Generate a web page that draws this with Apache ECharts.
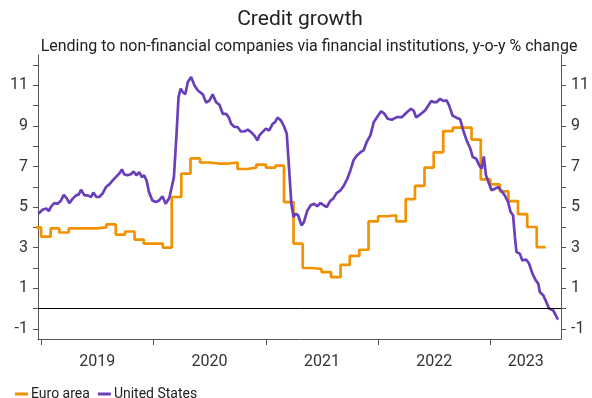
<!DOCTYPE html>
<html>
<head>
<meta charset="utf-8">
<script src="https://cdn.jsdelivr.net/npm/echarts@6/dist/echarts.min.js"></script>
<style>html,body{margin:0;padding:0;background:#fff;}#c{width:592px;height:398px;}</style>
</head>
<body>
<div id="c"></div>
<script>
const titleText = 'Credit growth';
const subtitleText = 'Lending to non-financial companies via financial institutions, y-o-y % change';
const seriesNames = ['Euro area', 'United States'];
const yearLabels = ['2019', '2020', '2021', '2022', '2023'];
const yTickValues = [-1, 0, 1, 2, 3, 4, 5, 6, 7, 8, 9, 10, 11, 12];
const yLabelValues = [-1, 1, 3, 5, 7, 9, 11];
const xStart = '2018-12-22';
const xEnd = '2023-08-19';

const euroMonths = ['2018-12',
 '2019-01','2019-02','2019-03','2019-04','2019-05','2019-06','2019-07','2019-08','2019-09','2019-10','2019-11','2019-12',
 '2020-01','2020-02','2020-03','2020-04','2020-05','2020-06','2020-07','2020-08','2020-09','2020-10','2020-11','2020-12',
 '2021-01','2021-02','2021-03','2021-04','2021-05','2021-06','2021-07','2021-08','2021-09','2021-10','2021-11','2021-12',
 '2022-01','2022-02','2022-03','2022-04','2022-05','2022-06','2022-07','2022-08','2022-09','2022-10','2022-11','2022-12',
 '2023-01','2023-02','2023-03','2023-04','2023-05','2023-06'];
const euroValues = [4.0,
 3.55,3.95,3.75,3.95,3.95,3.95,4.0,4.15,3.65,3.8,3.4,3.2,
 3.2,3.0,5.5,6.65,7.4,7.2,7.15,7.15,7.2,6.88,6.95,7.1,
 6.95,7.05,5.25,3.2,2.0,1.95,1.8,1.55,2.15,2.6,2.9,4.3,
 4.55,4.6,4.3,5.4,6.05,6.95,7.7,8.75,8.92,8.92,8.33,6.37,
 6.12,5.78,5.3,4.66,4.02,3.03];

const usDates = ['2018-12-23','2019-01-07','2019-01-18','2019-01-26','2019-02-03','2019-02-13','2019-02-24','2019-03-07','2019-03-16','2019-03-26',
 '2019-04-03','2019-04-14','2019-04-25','2019-05-04','2019-05-11','2019-05-22','2019-06-02','2019-06-13','2019-06-20','2019-06-30',
 '2019-07-09','2019-07-20','2019-07-31','2019-08-11','2019-08-22','2019-09-01','2019-09-12','2019-09-21','2019-09-28','2019-10-09',
 '2019-10-20','2019-10-29','2019-11-07','2019-11-16','2019-11-25','2019-12-02','2019-12-10','2019-12-18','2019-12-29','2020-01-09',
 '2020-01-20','2020-01-31','2020-02-10','2020-02-22','2020-03-02','2020-03-08','2020-03-16','2020-03-23','2020-03-30','2020-04-06',
 '2020-04-14','2020-04-22','2020-05-03','2020-05-14','2020-05-25','2020-06-10','2020-06-21','2020-07-02','2020-07-12','2020-07-23',
 '2020-08-03','2020-08-14','2020-08-25','2020-09-02','2020-09-10','2020-09-21','2020-10-01','2020-10-12','2020-10-23','2020-11-03',
 '2020-11-14','2020-11-24','2020-12-05','2020-12-11','2020-12-21','2021-01-01','2021-01-12','2021-01-23','2021-01-31','2021-02-08',
 '2021-02-19','2021-03-02','2021-03-10','2021-03-18','2021-03-25','2021-04-01','2021-04-08','2021-04-16','2021-04-27','2021-05-05',
 '2021-05-16','2021-05-27','2021-06-07','2021-06-17','2021-06-28','2021-07-09','2021-07-18','2021-07-29','2021-08-08','2021-08-19',
 '2021-09-01','2021-09-12','2021-09-23','2021-10-03','2021-10-13','2021-10-24','2021-11-05','2021-11-15','2021-11-25','2021-12-07',
 '2021-12-18','2021-12-29','2022-01-11','2022-01-22','2022-02-01','2022-02-15','2022-03-03','2022-03-20','2022-04-05','2022-04-18',
 '2022-04-27','2022-05-05','2022-05-18','2022-06-03','2022-06-14','2022-06-23','2022-06-30','2022-07-11','2022-07-22','2022-08-02',
 '2022-08-12','2022-08-20','2022-08-31','2022-09-13','2022-09-25','2022-10-05','2022-10-16','2022-10-27','2022-11-05','2022-11-16',
 '2022-11-26','2022-12-04','2022-12-11','2022-12-18','2022-12-26','2023-01-05','2023-01-16','2023-01-27','2023-02-03','2023-02-17',
 '2023-02-28','2023-03-08','2023-03-16','2023-03-22','2023-03-27','2023-04-07','2023-04-15','2023-04-28','2023-05-07','2023-05-18',
 '2023-05-29','2023-06-06','2023-06-11','2023-06-22','2023-07-02','2023-07-11','2023-07-24','2023-08-02','2023-08-09'];
const usValues = [4.68,4.88,4.93,4.81,5.04,5.2,5.17,5.33,5.61,5.42,
 5.2,5.42,5.58,5.63,5.86,5.58,5.58,5.5,5.72,5.5,
 5.5,5.67,5.99,6.12,6.32,6.48,6.65,6.86,6.62,6.57,
 6.62,6.76,6.57,6.73,6.48,6.57,6.32,5.74,5.33,5.25,
 5.33,5.53,5.17,5.45,6.07,6.48,8.45,10.42,10.84,10.67,
 10.56,11.16,11.41,11.0,10.75,10.56,10.15,10.26,10.56,10.18,
 10.05,9.6,9.6,9.44,9.11,8.95,8.95,8.73,8.73,8.82,
 8.7,8.54,8.29,8.54,8.7,8.87,8.78,9.11,9.19,9.41,
 9.28,8.95,8.62,6.81,5.17,4.51,4.68,4.6,4.1,4.27,
 4.84,5.09,5.17,5.04,5.2,5.09,5.0,5.3,5.42,5.69,
 5.83,6.07,6.4,6.81,7.31,7.55,7.71,7.8,8.21,8.54,
 9.19,9.44,9.73,9.6,9.36,9.31,9.44,9.44,9.68,9.85,
 9.75,9.42,9.57,9.77,10.02,10.23,10.18,10.18,10.34,10.23,
 10.26,10.02,9.52,9.41,9.33,8.78,8.29,7.93,7.47,7.39,
 7.06,6.9,7.5,6.57,6.24,5.83,5.91,5.99,5.86,5.58,
 5.25,4.76,4.6,3.53,2.79,2.71,2.38,2.41,2.22,1.72,
 1.39,1.23,0.82,0.66,0.33,0.0,-0.08,-0.33,-0.54];

// ---- build data ----
const ts = s => Date.parse(s);
const xMin = ts(xStart), xMax = ts(xEnd);
const euroData = euroMonths.map((m, i) => [ts(m + '-01'), euroValues[i]]);
(function () {
  const last = euroMonths[euroMonths.length - 1].split('-').map(Number);
  const monthEnd = Date.UTC(last[0], last[1], 0);
  euroData.push([monthEnd, euroValues[euroValues.length - 1]]);
})();
const usData = usDates.map((d, i) => [ts(d), usValues[i]]);
const yearStarts = yearLabels.map(y => ts(y + '-01-01'));
const yearMids = yearStarts.map((s, i) => (s + (i + 1 < yearStarts.length ? yearStarts[i + 1] : xMax)) / 2);

const FONT = 'Roboto';
const AX = '#555';
const TXT = '#333';
const orange = '#F39200';
const purple = '#6A3FBA';

function yAx(pos) {
  return {
    type: 'value', min: -1.5, max: 12.5, position: pos,
    axisLine: { show: true, lineStyle: { color: AX, width: 1 } },
    axisTick: { show: true, customValues: yTickValues, length: 5, lineStyle: { color: AX } },
    axisLabel: { customValues: yLabelValues, margin: 10, fontSize: 16, color: TXT, fontFamily: FONT },
    splitLine: { show: false }
  };
}

const chart = echarts.init(document.getElementById('c'), null, { renderer: 'canvas' });
chart.setOption({
  animation: false,
  backgroundColor: '#fff',
  graphic: [
    { type: 'text', x: 300, y: 20, style: { text: titleText, fontSize: 21, fontFamily: FONT, fill: '#222', textAlign: 'center', textVerticalAlign: 'middle' } },
    { type: 'text', x: 309, y: 47, style: { text: subtitleText, fontSize: 16, fontFamily: FONT, fill: '#222', textAlign: 'center', textVerticalAlign: 'middle' } }
  ],
  grid: { left: 38, right: 29, top: 55, bottom: 59, containLabel: false },
  legend: {
    left: 10, top: 382, icon: 'rect', itemWidth: 13, itemHeight: 3, itemGap: 8,
    textStyle: { fontSize: 14, fontFamily: FONT, color: '#222', padding: [0, 0, 0, -2] },
    data: seriesNames
  },
  xAxis: {
    type: 'value', min: xMin, max: xMax,
    axisLine: { show: true, onZero: false, lineStyle: { color: AX, width: 1 } },
    axisTick: { show: true, customValues: yearStarts, length: 6, lineStyle: { color: AX } },
    axisLabel: { customValues: yearMids, margin: 15, fontSize: 16, color: TXT, fontFamily: FONT,
      formatter: v => String(new Date(v).getUTCFullYear()) },
    splitLine: { show: false }
  },
  yAxis: [yAx('left'), yAx('right')],
  series: [
    { name: seriesNames[0], type: 'line', data: euroData, step: 'end', showSymbol: false,
      lineStyle: { color: orange, width: 2.7 }, itemStyle: { color: orange }, z: 3 },
    { name: seriesNames[1], type: 'line', data: usData, showSymbol: false,
      lineStyle: { color: purple, width: 2.7 }, itemStyle: { color: purple }, z: 4,
      markLine: { silent: true, symbol: 'none', label: { show: false },
        lineStyle: { color: '#000', width: 1, type: 'solid' }, data: [{ yAxis: 0 }] } }
  ]
});
</script>
</body>
</html>
